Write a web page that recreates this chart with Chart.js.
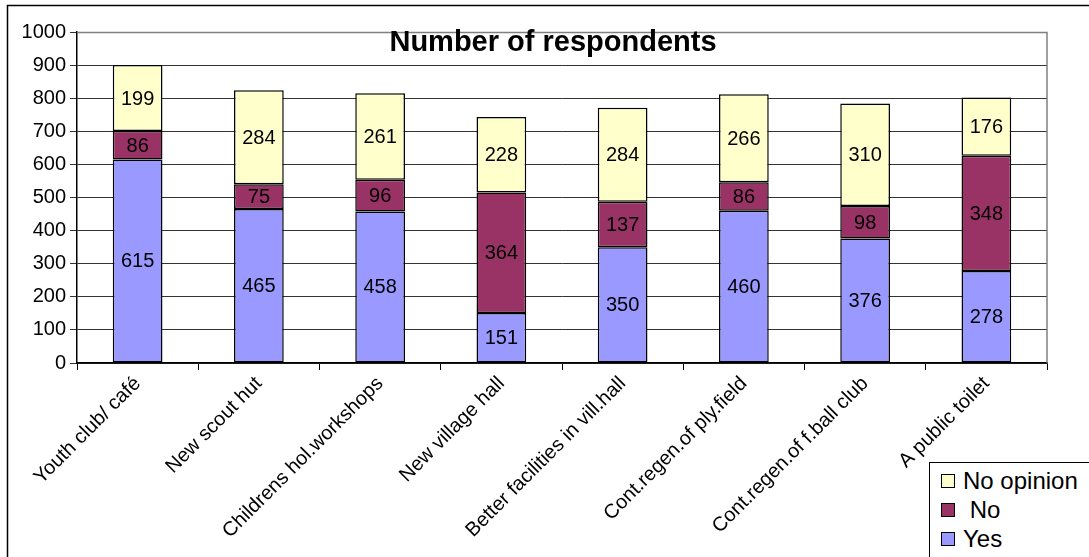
<!DOCTYPE html>
<html>
<head>
<meta charset="utf-8">
<script src="https://cdn.jsdelivr.net/npm/chart.js@4/dist/chart.umd.min.js"></script>
<style>
  html, body { margin:0; padding:0; background:#fff; }
  #wrap { position:relative; width:1089px; height:557px; overflow:hidden; }
  #legend {
    position:absolute; left:929px; top:462px; width:200px; height:120px;
    border:1px solid #000; background:#fff; box-sizing:border-box;
    font-family: Arial, 'Liberation Sans', sans-serif; font-size:24px; color:#000;
    padding-top:3px;
  }
  #legend div { height:29px; line-height:29px; white-space:pre; }
  #legend span.sw { display:inline-block; width:12px; height:12px; border:1px solid #000; margin:0 8px 0 11px; vertical-align:middle; position:relative; top:-2px; }
</style>
</head>
<body>
<div id="wrap">
  <canvas id="c" width="1089" height="557"></canvas>
  <div id="legend"></div>
</div>
<script>
// Data
const categories = ['Youth club/ café', 'New scout hut', 'Childrens hol.workshops', 'New village hall',
  'Better facilities in vill.hall', 'Cont.regen.of ply.field', 'Cont.regen.of f.ball club', 'A public toilet'];
const yesVals       = [615, 465, 458, 151, 350, 460, 376, 278];
const noVals        = [86, 75, 96, 364, 137, 86, 98, 348];
const noOpinionVals = [199, 284, 261, 228, 284, 266, 310, 176];
const seriesNames   = ['Yes', ' No', 'No opinion'];
const yTicks        = [0, 100, 200, 300, 400, 500, 600, 700, 800, 900, 1000];
const chartTitle    = 'Number of respondents';

const COL = { yes:'#9999ff', no:'#993366', noop:'#ffffcc' };
const SANS = "'Liberation Sans', Arial, sans-serif";

// labels inside each segment + title + borders
const extras = {
  id:'extras',
  afterDatasetsDraw(chart) {
    const ctx = chart.ctx;
    ctx.save();
    ctx.font = "20px " + SANS;
    ctx.fillStyle = '#000';
    ctx.textAlign = 'center';
    ctx.textBaseline = 'middle';
    chart.data.datasets.forEach((ds, i) => {
      chart.getDatasetMeta(i).data.forEach((bar, j) => {
        const mid = (bar.y + bar.base) / 2;
        ctx.fillText(String(ds.data[j]), bar.x, mid + 1);
      });
    });
    ctx.restore();
  },
  afterDraw(chart) {
    const ctx = chart.ctx, a = chart.chartArea;
    ctx.save();
    // plot area top/right border (grey)
    ctx.strokeStyle = '#808080';
    ctx.lineWidth = 1.5;
    ctx.beginPath();
    ctx.moveTo(a.left, a.top + 0.5); ctx.lineTo(a.right, a.top + 0.5); ctx.lineTo(a.right, a.bottom);
    ctx.stroke();
    // outer chart border
    ctx.strokeStyle = '#000';
    ctx.lineWidth = 1.5;
    ctx.strokeRect(7.5, 5.5, 1200, 700);
    // title
    ctx.font = "bold 29px " + SANS;
    ctx.fillStyle = '#000';
    ctx.textAlign = 'center';
    ctx.textBaseline = 'middle';
    ctx.fillText(chartTitle, 553, 43);
    ctx.restore();
  }
};

new Chart(document.getElementById('c'), {
  type:'bar',
  data:{
    labels: categories,
    datasets:[
      { label:seriesNames[0], data:yesVals,       backgroundColor:COL.yes,  borderColor:'#000', borderWidth:1.5, borderSkipped:false },
      { label:seriesNames[1], data:noVals,        backgroundColor:COL.no,   borderColor:'#000', borderWidth:1.5, borderSkipped:false },
      { label:seriesNames[2], data:noOpinionVals, backgroundColor:COL.noop, borderColor:'#000', borderWidth:1.5, borderSkipped:false }
    ]
  },
  options:{
    responsive:false, animation:false,
    layout:{ padding:{ left:0, top:32, right:42, bottom:0 } },
    plugins:{ legend:{ display:false }, title:{ display:false }, tooltip:{ enabled:false } },
    datasets:{ bar:{ categoryPercentage:1, barPercentage:0.41 } },
    scales:{
      x:{
        stacked:true,
        grid:{ offset:true, drawOnChartArea:false, drawTicks:true, tickLength:7, color:'#000' },
        border:{ color:'#000', width:1.5 },
        ticks:{ minRotation:45, maxRotation:45, autoSkip:false, color:'#000', padding:2, font:{ family:SANS, size:20 } },
        afterFit(s){ s.height = 194; }
      },
      y:{
        stacked:true, min:0, max:1000,
        afterBuildTicks(s){ s.ticks = yTicks.map(v => ({ value:v })); },
        grid:{ color:'#333', lineWidth:1, tickLength:7 },
        border:{ color:'#000', width:1.5 },
        ticks:{ color:'#000', padding:4, font:{ family:SANS, size:20 }, callback:v => String(v) },
        afterFit(s){ s.width = 77; }
      }
    }
  },
  plugins:[extras]
});

// legend (reverse order, top = No opinion)
const legendEl = document.getElementById('legend');
const legendCols = [COL.yes, COL.no, COL.noop];
for (let i = seriesNames.length - 1; i >= 0; i--) {
  const row = document.createElement('div');
  const sw = document.createElement('span');
  sw.className = 'sw'; sw.style.background = legendCols[i];
  row.appendChild(sw);
  row.appendChild(document.createTextNode(seriesNames[i]));
  legendEl.appendChild(row);
}
</script>
</body>
</html>
